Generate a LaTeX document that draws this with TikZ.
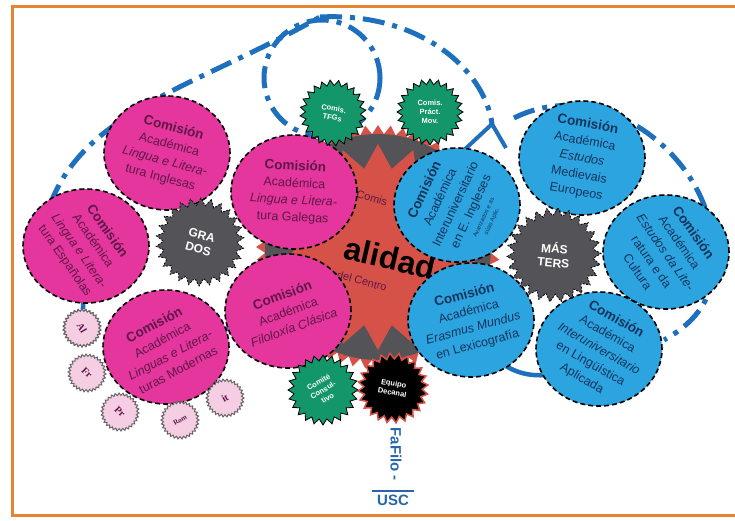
\documentclass[tikz,border=0pt]{standalone}
\usepackage{fontspec}
\setmainfont{Liberation Sans}
\newfontfamily\langfont{Liberation Serif}
\usetikzlibrary{shapes.geometric, arrows.meta, calc}
\definecolor{pinkc}{RGB}{229,54,158}
\definecolor{pinktxt}{RGB}{95,22,72}
\definecolor{bluec}{RGB}{44,164,224}
\definecolor{bluetxt}{RGB}{20,52,92}
\definecolor{arcblue}{RGB}{30,112,188}
\definecolor{grayc}{RGB}{84,84,88}
\definecolor{redc}{RGB}{214,82,72}
\definecolor{greenc}{RGB}{18,150,106}
\definecolor{lightpink}{RGB}{246,206,228}
\definecolor{framec}{RGB}{230,132,52}
\definecolor{fafiloc}{RGB}{40,102,170}
\newcommand{\comtxt}[1]{{\bfseries\fontsize{13.5}{17}\selectfont Comisión}\\Académica\\#1}
\tikzset{
	comision/.style = {ellipse, draw=black, line width=1.6pt, dash pattern=on 5pt off 3pt, minimum width=126pt, minimum height=114pt, inner sep=0pt},
	grado/.style = {comision, fill=pinkc},
	master/.style = {comision, fill=bluec},
	gradotxt/.style = {align=center, text=pinktxt, font=\fontsize{12.5}{17}\selectfont},
	mastertxt/.style = {align=center, text=bluetxt, font=\fontsize{12.5}{17}\selectfont},
	burst/.style = {star, star points=#1, star point ratio=1.2, inner sep=0pt},
	bigstar/.style = {burst=26, fill=grayc, draw=black, dash pattern=on 2pt off 1.5pt, line width=0.8pt, text=white, align=center, font=\bfseries\fontsize{12}{14}\selectfont},
	smallstar/.style = {burst=24, fill=greenc, draw=black, line width=0.8pt, minimum size=66pt, text=white, align=center, font=\bfseries\fontsize{7.5}{9}\selectfont},
	lang/.style = {burst=30, star point ratio=1.14, fill=lightpink, draw=gray!80!black, line width=1pt, minimum size=38pt, text=pinktxt, font=\langfont\bfseries\fontsize{10}{11}\selectfont},
	arcline/.style = {draw=arcblue, line width=5pt, dash pattern=on 22pt off 8pt on 5pt off 8pt},
	link/.style = {draw=arcblue, line width=4.5pt}
}
\begin{document}
\begin{tikzpicture}[x=1pt, y=-1pt]
	\useasboundingbox (0,0) rectangle (735,521);
	\fill[white] (0,0) rectangle (735,521);
	% frame
	\draw[framec, line width=3pt] (740,7) -- (12,7) -- (12,515) -- (740,515);
	% blue loops
	\coordinate (arcA) at (50,205);
	\coordinate (arcB) at (320,17);
	\coordinate (arcC) at (492,124);
	\coordinate (arcD) at (514,118);
	\coordinate (arcE) at (712,235);
	\coordinate (arcF) at (664,340);
	\path[arcline] (arcA) .. controls (85,110) and (200,85) .. (arcB);
	\path[arcline] (arcB) .. controls (420,12) and (485,70) .. (arcC);
	\path[arcline] (322,78) circle [radius=58];
	\path[arcline] (arcD) .. controls (600,75) and (700,150) .. (arcE) .. controls (722,290) and (700,320) .. (arcF);
	% centre
	\node[burst=60, star point ratio=1.08, fill=redc, minimum size=244pt] (calsaw) at (378,247) {};
	\node[circle, fill=grayc, minimum size=226pt] (calgray) at (378,247) {};
	\node[burst=18, star point ratio=1.3, fill=redc, minimum size=206pt] (calstar) at (378,247) {};
	\node[rotate=-15, text=pinktxt, font=\fontsize{11}{13}\selectfont] (calcom) at (372,198) {Comis};
	\node[rotate=-13, font=\bfseries\fontsize{32}{34}\selectfont] (calname) at (390,258) {alidad};
	\node[rotate=-15, text=pinktxt, font=\fontsize{11}{13}\selectfont] (calcentro) at (362,281) {del Centro};
	% links
	\node[lang] (al) at (82,328) {};
	\path[link] (al) -- (86,246);
	\path[link] (166,347) -- (288,311);
	\path[link, line width=4pt] (462,152) -- (arcC) -- (506,148);
	\path[link] (471,320) .. controls (495,385) and (555,390) .. (599,349);
	% grados
	\node[grado] (ingl) at (167,153) {};
	\node[gradotxt, rotate=-15] at (ingl) {\comtxt{\itshape Lingua e Litera-\\tura Inglesas}};
	\node[grado] (espa) at (86,246) {};
	\node[gradotxt, rotate=-55] at (espa) {\comtxt{\itshape Lingua e Litera-\\tura Españolas}};
	\node[grado] (gale) at (294,192) {};
	\node[gradotxt, rotate=-3] at (gale) {\comtxt{\itshape Lingua e Litera-\\tura Galegas}};
	\node[grado] (clas) at (288,311) {};
	\node[gradotxt, rotate=20] at (clas) {\comtxt{\itshape Filoloxía Clásica}};
	\node[grado] (mode) at (166,347) {};
	\node[gradotxt, rotate=28] at (mode) {\comtxt{\itshape Linguas e Litera-\\turas Modernas}};
	% masters
	\node[master] (ingav) at (457,205) {};
	\node[mastertxt, rotate=65] at (ingav) {\comtxt{Interuniversitario\\en E. Ingleses\\[-5pt]{\fontsize{6}{7}\selectfont Avanzados e as}\\[-8pt]{\fontsize{6}{7}\selectfont súas Aplic.}}};
	\node[master] (medi) at (582,158) {};
	\node[mastertxt, rotate=-10] at (medi) {\comtxt{\itshape Estudos\\Medievais\\Europeos}};
	\node[master] (lite) at (666,252) {};
	\node[mastertxt, rotate=-55] at (lite) {\comtxt{\itshape Estudos da Lite-\\ratura e da\\Cultura}};
	\node[master] (eras) at (471,320) {};
	\node[mastertxt, rotate=15] at (eras) {\comtxt{\itshape Erasmus Mundus\\en Lexicografía}};
	\node[master] (apli) at (599,349) {};
	\node[mastertxt, rotate=-30] at (apli) {\comtxt{\itshape Interuniversitario\\en Lingüística\\Aplicada}};
	% stars
	\node[bigstar, minimum size=88pt, rotate=-15] (grados) at (200,242) {GRA\\DOS};
	\node[bigstar, minimum size=94pt, rotate=-5] (masters) at (554,255) {MÁS\\TERS};
	\node[smallstar, rotate=-10] (tfgs) at (333,113) {Comis.\\TFGs};
	\node[smallstar] (pract) at (430,112) {Comis.\\Práct.\\Mov.};
	\node[smallstar, minimum size=70pt, rotate=30] (consul) at (323,390) {Comité\\Consul-\\tivo};
	\node[smallstar, minimum size=70pt, fill=black, draw=redc, line width=1.5pt, rotate=-10] (decanal) at (393,388) {Equipo\\Decanal};
	% languages
	\node[lang, rotate=-60] at (al) {Al};
	\node[lang, rotate=-45] (fr) at (87,373) {Fr};
	\node[lang, rotate=-45] (pr) at (120,412) {Pr};
	\node[lang, rotate=30, font=\langfont\bfseries\fontsize{7}{8}\selectfont] (rom) at (180,420) {Rom};
	\node[lang, rotate=30] (it) at (225,398) {it};
	% fafilo
	\node[rotate=-90, text=fafiloc, font=\bfseries\fontsize{15}{17}\selectfont, anchor=west] (fafilo) at (396,424) {FaFilo -};
	\coordinate (barL) at (372,491);
	\coordinate (barR) at (414,491);
	\draw[fafiloc, line width=1.6pt] (barL) -- (barR);
	\node[text=fafiloc, font=\bfseries\fontsize{15}{17}\selectfont, below=0pt] (usc) at ($(barL)!0.5!(barR)$) {USC};
\end{tikzpicture}
\end{document}
